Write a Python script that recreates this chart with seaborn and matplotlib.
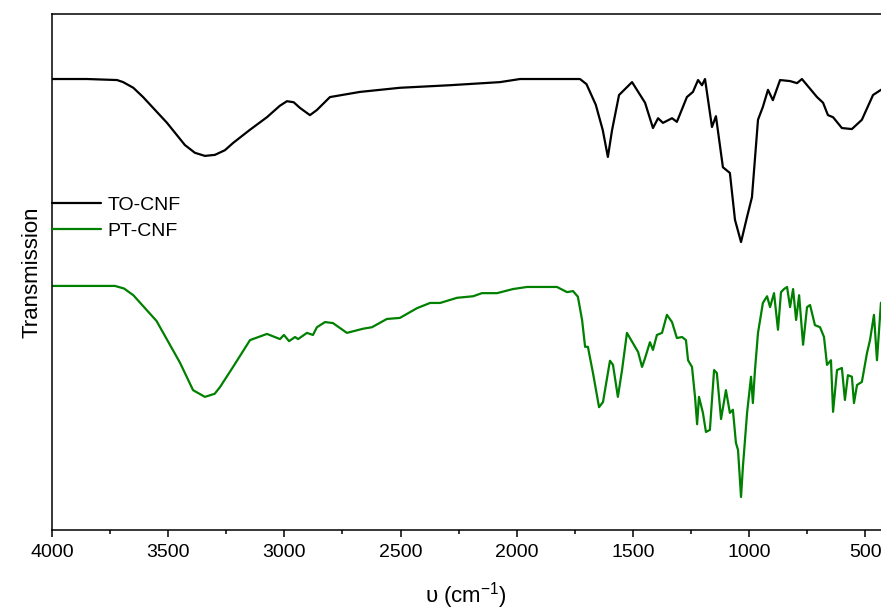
"""FTIR spectra of TO-CNF and PT-CNF (transmission, offset traces)."""

import matplotlib

matplotlib.use("Agg")
import matplotlib.pyplot as plt
from matplotlib.ticker import MultipleLocator
import pandas as pd
import seaborn as sns

# TO-CNF trace: wavenumber (cm-1) and transmission (a.u.)
to_wavenumber = [
    4000, 3850, 3720, 3694, 3650, 3608, 3505, 3428, 3385, 3342, 3299, 3256,
    3221, 3150, 3075, 3020, 2989, 2960, 2933, 2890, 2860, 2804, 2675, 2503,
    2287, 2072, 1986, 1728, 1700, 1660, 1630, 1608, 1590, 1560, 1504, 1448,
    1414, 1392, 1371, 1332, 1311, 1268, 1242, 1220, 1203, 1190, 1160, 1143,
    1113, 1083, 1061, 1035, 1009, 988, 962, 941, 919, 898, 867, 824, 794,
    773, 708, 682, 661, 639, 601, 558, 515, 467, 433, 400,
]
to_transmission = [
    87.4, 87.4, 87.2, 86.8, 85.7, 83.9, 78.9, 74.6, 73.1, 72.5, 72.7, 73.6,
    75.0, 77.5, 80.0, 82.2, 83.1, 82.9, 81.8, 80.4, 81.4, 83.9, 84.9, 85.7,
    86.2, 86.8, 87.4, 87.4, 86.4, 82.4, 77.5, 72.3, 77.5, 84.3, 86.8, 82.8,
    77.9, 79.8, 78.9, 79.8, 79.1, 83.9, 84.9, 87.2, 86.2, 87.4, 78.1, 80.2,
    70.3, 69.2, 60.1, 55.8, 60.7, 64.5, 79.5, 82.0, 85.3, 83.3, 87.2, 87.0,
    86.6, 87.4, 83.9, 82.8, 80.4, 80.0, 77.9, 77.7, 79.5, 84.3, 85.3, 85.9,
]

# PT-CNF trace
pt_wavenumber = [
    4000, 3850, 3729, 3690, 3650, 3550, 3449, 3393, 3342, 3300, 3277, 3221,
    3148, 3075, 3019, 3002, 2980, 2954, 2941, 2903, 2877, 2860, 2825, 2791,
    2731, 2662, 2623, 2559, 2503, 2429, 2373, 2330, 2257, 2188, 2150, 2085,
    2016, 1956, 1827, 1784, 1758, 1737, 1719, 1706, 1694, 1672, 1646, 1629,
    1599, 1586, 1565, 1547, 1526, 1500, 1478, 1461, 1448, 1427, 1414, 1397,
    1375, 1354, 1332, 1311, 1289, 1272, 1263, 1246, 1233, 1224, 1216, 1199,
    1186, 1169, 1151, 1139, 1121, 1100, 1083, 1070, 1057, 1048, 1035, 1027,
    1009, 992, 984, 975, 962, 941, 923, 910, 893, 876, 863, 850, 837, 824,
    811, 798, 785, 768, 751, 738, 717, 695, 678, 665, 648, 639, 622, 601,
    588, 575, 558, 549, 536, 515, 493, 480, 463, 450, 433, 400,
]
pt_transmission = [
    47.3, 47.3, 47.3, 46.8, 45.5, 40.5, 32.4, 27.1, 25.8, 26.4, 27.7, 31.6,
    36.8, 38.0, 37.0, 37.8, 36.6, 37.4, 37.0, 38.2, 37.8, 39.3, 40.3, 40.1,
    38.2, 39.0, 39.3, 40.9, 41.1, 43.0, 44.0, 44.0, 45.0, 45.3, 45.9, 45.9,
    46.7, 47.1, 47.1, 46.1, 46.3, 45.2, 40.7, 35.5, 35.5, 30.4, 23.8, 24.8,
    32.8, 32.0, 25.8, 31.0, 38.2, 36.2, 34.5, 31.6, 33.3, 36.4, 34.9, 37.8,
    38.2, 41.7, 40.3, 37.2, 37.4, 36.8, 32.9, 31.6, 25.8, 20.5, 25.8, 22.7,
    19.0, 19.4, 31.0, 30.4, 21.5, 27.1, 22.7, 23.3, 16.9, 15.5, 6.4, 12.2,
    22.7, 29.7, 24.6, 31.0, 38.2, 44.0, 45.3, 43.2, 45.9, 38.8, 46.1, 46.7,
    47.1, 43.2, 46.7, 40.7, 45.5, 35.9, 43.2, 43.6, 39.7, 39.3, 37.4, 32.0,
    32.9, 22.9, 31.0, 31.4, 25.2, 30.0, 29.7, 24.6, 28.1, 28.7, 34.3, 36.8,
    41.7, 32.9, 44.0, 45.5,
]

series_names = ["TO-CNF", "PT-CNF"]
series_colors = ["#000000", "#008000"]


def main():
    frame = pd.concat(
        [
            pd.DataFrame({"wavenumber": to_wavenumber, "T": to_transmission, "sample": series_names[0]}),
            pd.DataFrame({"wavenumber": pt_wavenumber, "T": pt_transmission, "sample": series_names[1]}),
        ],
        ignore_index=True,
    )

    sns.set_style("ticks")
    plt.rcParams.update(
        {
            "font.family": ["Liberation Sans", "DejaVu Sans"],
            "mathtext.fontset": "custom",
            "mathtext.rm": "Liberation Sans",
            "mathtext.it": "Liberation Sans",
            "axes.linewidth": 1.1,
            "axes.edgecolor": "#000000",
            "axes.labelcolor": "#000000",
            "text.color": "#000000",
            "xtick.color": "#000000",
            "xtick.direction": "out",
        }
    )

    fig = plt.figure(figsize=(8.81, 6.11), dpi=100)
    # right spine falls just outside the canvas, as in the cropped original
    ax = fig.add_axes([52 / 881, 81 / 611, 836.6 / 881, 516 / 611])

    sns.lineplot(
        data=frame,
        x="wavenumber",
        y="T",
        hue="sample",
        hue_order=series_names,
        palette=dict(zip(series_names, series_colors)),
        estimator=None,
        linewidth=1.6,
        ax=ax,
    )

    ax.set_xlim(4000, 400)
    ax.set_ylim(0, 100)
    ax.xaxis.set_major_locator(MultipleLocator(500))
    ax.xaxis.set_minor_locator(MultipleLocator(250))
    ax.tick_params(axis="x", which="major", length=5, width=1.1, labelsize=14, pad=5)
    ax.tick_params(axis="x", which="minor", length=3, width=1.1)
    ax.set_yticks([])
    ax.spines["right"].set_visible(False)

    ax.set_xlabel("\u03c5 (cm$^{-1}$)", fontsize=16)
    ax.xaxis.set_label_coords((466 - 52) / 836.6, -0.098)
    ax.set_ylabel("Transmission", fontsize=16, labelpad=7)

    ax.legend(
        loc="upper left",
        bbox_to_anchor=(0, 0.647),
        frameon=False,
        fontsize=14,
        handlelength=2.5,
        handletextpad=0.35,
        borderpad=0,
        borderaxespad=0,
        labelspacing=0.45,
        title=None,
    )

    fig.savefig("out.png", dpi=100, facecolor="white")
    plt.close(fig)


if __name__ == "__main__":
    main()
